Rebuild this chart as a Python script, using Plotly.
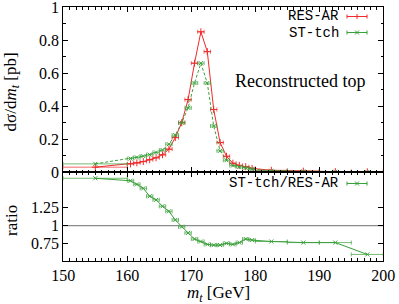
import plotly.graph_objects as go

# ---- data ----
m_t = [155, 160.5, 161.5, 162.5, 163.5, 164.5, 165.5, 166.5, 167.5, 168.5, 169.5,
       170.5, 171.5, 172.5, 173.5, 174.5, 175.5, 176.5, 177.5, 178.5, 179.5,
       182.5, 187.5, 192.5, 197.5]
bin_half = [5] + [0.5] * 20 + [2.5] * 4
res_ar = [0.031, 0.051, 0.057, 0.065, 0.076, 0.088, 0.106, 0.14, 0.21, 0.30, 0.44,
          0.66, 0.85, 0.73, 0.38, 0.18, 0.097, 0.055, 0.042, 0.034, 0.024,
          0.012, 0.007, 0.004, 0.003]
st_tch = [0.051, 0.083, 0.09, 0.098, 0.107, 0.12, 0.135, 0.17, 0.225, 0.30, 0.39,
          0.54, 0.66, 0.54, 0.28, 0.13, 0.073, 0.041, 0.032, 0.027, 0.019,
          0.009, 0.0055, 0.003, 0.002]
ratio = [1.66, 1.625, 1.575, 1.52, 1.41, 1.36, 1.27, 1.20, 1.08, 0.985, 0.90,
         0.815, 0.78, 0.74, 0.73, 0.73, 0.755, 0.74, 0.765, 0.815, 0.80,
         0.78, 0.765, 0.765, 0.60]
x_ticks = [150, 160, 170, 180, 190, 200]
top_ticks = [0, 0.2, 0.4, 0.6, 0.8, 1]
ratio_ticks = [0.75, 1, 1.25]
ratio_tick_text = ["0.75", "1", "1.25"]

RED = "#f02a2a"
GREEN = "#3aa03a"
RED_E = "rgba(240,42,42,0.7)"
GREEN_E = "rgba(58,160,58,0.7)"
SERIF = "Liberation Serif"
MONO = "Liberation Mono"

W, H = 399, 304
def px(x):
    return min(1.0, max(0.0, x / W))
def py(y):
    return min(1.0, max(0.0, 1 - y / H))

fig = go.Figure()
fig.add_trace(go.Scatter(
    x=m_t, y=res_ar, mode="lines+markers", xaxis="x", yaxis="y",
    line=dict(color=RED, width=1),
    marker=dict(symbol="cross-thin", size=5, line=dict(width=1, color=RED), color=RED),
    error_x=dict(type="data", array=bin_half, color=RED_E, thickness=1, width=2),
    showlegend=False))
fig.add_trace(go.Scatter(
    x=m_t, y=st_tch, mode="lines+markers", xaxis="x", yaxis="y",
    line=dict(color=GREEN, width=1, dash="3px,2px"),
    marker=dict(symbol="x-thin", size=4, line=dict(width=1, color=GREEN), color=GREEN),
    error_x=dict(type="data", array=bin_half, color=GREEN_E, thickness=1, width=2),
    showlegend=False))
fig.add_trace(go.Scatter(
    x=m_t, y=ratio, mode="lines+markers", xaxis="x2", yaxis="y2",
    line=dict(color=GREEN, width=1),
    marker=dict(symbol="x-thin", size=4, line=dict(width=1, color=GREEN), color=GREEN),
    error_x=dict(type="data", array=bin_half, color=GREEN_E, thickness=1, width=2),
    showlegend=False))

xdom = [px(63.3), px(383.3)]
tickfont = dict(family=SERIF, size=16, color="black")
common_x = dict(range=[150, 200], domain=xdom, showline=True, linecolor="black",
                linewidth=1, mirror="ticks", ticks="inside", ticklen=5,
                tickcolor="black", tickvals=x_ticks, showgrid=False, zeroline=False,
                ticklabeloverflow="allow",
                minor=dict(ticks="inside", dtick=1, ticklen=2.5, tickcolor="black",
                           showgrid=False))
fig.update_layout(
    width=W, height=H, margin=dict(l=0, r=0, t=0, b=0, autoexpand=False),
    paper_bgcolor="white", plot_bgcolor="white",
    xaxis=dict(**common_x, anchor="y", showticklabels=False, matches="x2"),
    xaxis2=dict(**common_x, anchor="y2", showticklabels=True, tickfont=tickfont,
                ticktext=[str(v) for v in x_ticks]),
    yaxis=dict(domain=[py(172.3), py(7)], range=[0, 1], anchor="x",
               showline=True, linecolor="black", linewidth=1, mirror="ticks",
               ticks="inside", ticklen=5, tickcolor="black", tickvals=top_ticks,
               tickfont=tickfont, showgrid=False, zeroline=False,
               ticklabeloverflow="allow",
               minor=dict(ticks="inside", dtick=0.1, ticklen=2.5, tickcolor="black",
                          showgrid=False)),
    yaxis2=dict(domain=[py(260.7), py(172.3)], range=[0.513, 1.743], anchor="x2",
                showline=True, linecolor="black", linewidth=1, mirror="ticks",
                ticks="inside", ticklen=5, tickcolor="black", tickvals=ratio_ticks,
                ticktext=ratio_tick_text, tickfont=tickfont, showgrid=False,
                zeroline=False, ticklabeloverflow="allow"),
)

# reference line at ratio 1
fig.add_shape(type="line", xref="x2 domain", yref="y2", x0=0, x1=1, y0=1, y1=1,
              line=dict(color="#8c8c8c", width=1.3), layer="below")

def text_at(x, y, text, family=SERIF, size=16, angle=0, xanchor="center"):
    fig.add_annotation(x=px(x), y=py(y), xref="paper", yref="paper", text=text,
                       textangle=angle, xanchor=xanchor, yanchor="middle",
                       showarrow=False, font=dict(family=family, size=size, color="black"))

# axis titles
text_at(11, 92.5, "dσ/d<i>m</i><sub><i>t</i></sub> [pb]", size=17, angle=-90)
text_at(11, 221, "ratio", size=17, angle=-90)
text_at(218, 294, "<i>m</i><sub><i>t</i></sub> [GeV]", size=17)
text_at(300, 80.5, "Reconstructed top", size=18)

# legends (gnuplot style: text right-aligned, sample to the right)
def seg(x0, y0, x1, y1, color):
    fig.add_shape(type="line", xref="paper", yref="paper", x0=px(x0), x1=px(x1),
                  y0=py(y0), y1=py(y1), line=dict(color=color, width=1))

def legend_entry(y, label, color, symbol):
    text_at(341, y, label, family=MONO, size=14, xanchor="right")
    x0, x1, xm = 347, 367, 357
    seg(x0, y, x1, y, color)
    seg(x0, y - 2, x0, y + 2, color)
    seg(x1, y - 2, x1, y + 2, color)
    if symbol == "+":
        seg(xm - 2.5, y, xm + 2.5, y, color)
        seg(xm, y - 2.5, xm, y + 2.5, color)
    else:
        seg(xm - 2, y - 2, xm + 2, y + 2, color)
        seg(xm - 2, y + 2, xm + 2, y - 2, color)

legend_entry(16.5, "RES-AR", RED, "+")
legend_entry(32.5, "ST-tch", GREEN, "x")
legend_entry(183.5, "ST-tch/RES-AR", GREEN, "x")

# remove the default page margin so the figure sits at the window corner
fig.write_html("out.html",
               config={"displayModeBar": False, "staticPlot": True},
               post_script="document.body.style.margin='0';document.body.style.overflow='hidden';")
